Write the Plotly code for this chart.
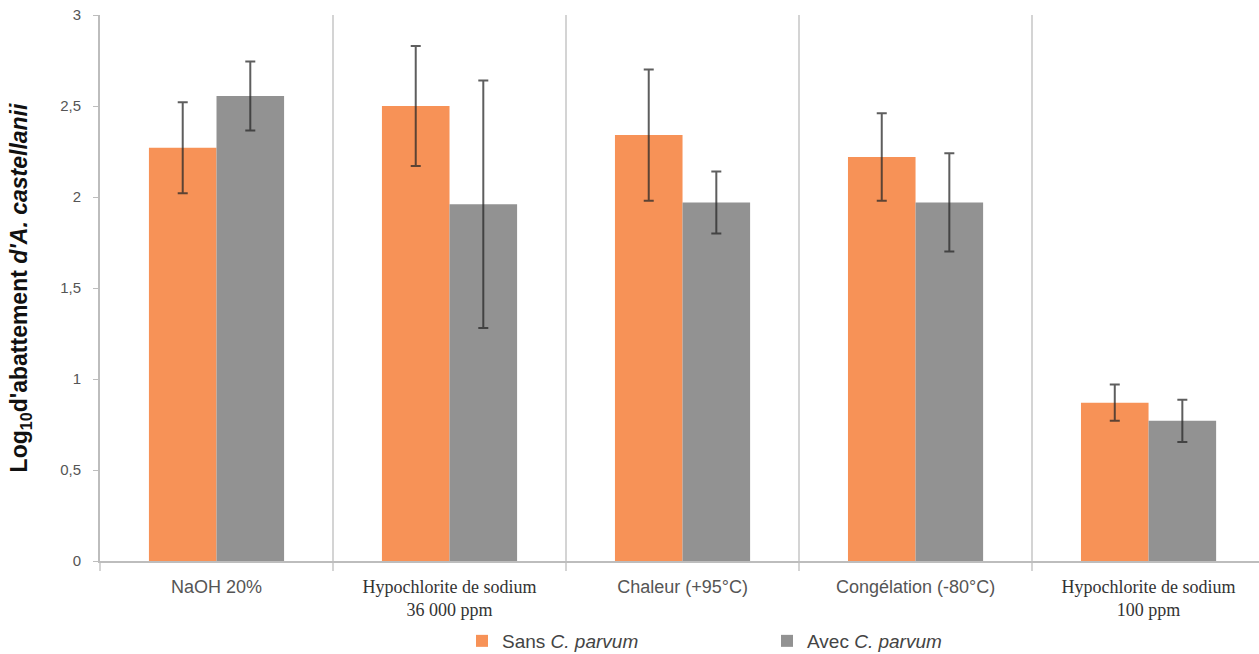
import plotly.graph_objects as go

categories = ["NaOH 20%", "Hypochlorite de sodium 36 000 ppm", "Chaleur (+95°C)",
              "Congélation (-80°C)", "Hypochlorite de sodium 100 ppm"]
serif = "font-family:Liberation Serif, Times New Roman, serif;fill:#333333"
tick_labels = [
    "NaOH 20%",
    f"<span style='{serif}'>Hypochlorite de sodium<br>36 000 ppm</span>",
    "Chaleur (+95°C)",
    "Congélation (-80°C)",
    f"<span style='{serif}'>Hypochlorite de sodium<br>100 ppm</span>",
]
sans_values = [2.27, 2.50, 2.34, 2.22, 0.87]
sans_err = [0.25, 0.33, 0.36, 0.24, 0.10]
avec_values = [2.555, 1.96, 1.97, 1.97, 0.77]
avec_err = [0.19, 0.68, 0.17, 0.27, 0.116]
y_ticks = [0, 0.5, 1, 1.5, 2, 2.5, 3]

err_style = dict(type="data", visible=True, color="rgba(40,40,40,0.75)", thickness=2, width=5)

fig = go.Figure()
fig.add_trace(go.Bar(
    x=categories, y=sans_values, name="Sans <i>C. parvum</i>",
    marker=dict(color="#F79257", line=dict(width=0)),
    error_y=dict(array=sans_err, **err_style),
))
fig.add_trace(go.Bar(
    x=categories, y=avec_values, name="Avec <i>C. parvum</i>",
    marker=dict(color="#929292", line=dict(width=0)),
    error_y=dict(array=avec_err, **err_style),
))

W, H = 1259, 654
fig.update_layout(
    width=W, height=H,
    margin=dict(l=100, r=0, t=15, b=93, autoexpand=False),
    paper_bgcolor="white", plot_bgcolor="white",
    barmode="group", bargap=0.42, bargroupgap=0,
    separators=", ",
    font=dict(family="Arial, Liberation Sans, sans-serif", size=15, color="#555555"),
    showlegend=True,
    legend=dict(orientation="h", xref="paper", x=(462 - 100) / 1159, xanchor="left",
                yref="container", y=(H - 641) / H, yanchor="middle",
                font=dict(size=19, color="#444444"), entrywidth=260,
                itemwidth=30, bgcolor="rgba(0,0,0,0)"),
    xaxis=dict(
        type="category", categoryorder="array", categoryarray=categories,
        tickmode="array", tickvals=categories, ticktext=tick_labels,
        range=[-0.5, 4.474], automargin=False,
        showline=True, linecolor="#bdbdbd", linewidth=2,
        showgrid=True, gridcolor="#d4d4d4", gridwidth=2,
        tickson="boundaries", ticks="outside", ticklen=8, tickcolor="#d4d4d4", tickwidth=2,
        tickfont=dict(size=18, color="#555555"), ticklabelstandoff=8,
        zeroline=False,
    ),
    yaxis=dict(
        range=[0, 3], tickvals=y_ticks, automargin=False,
        ticklabeloverflow="allow",
        showline=True, linecolor="#bdbdbd", linewidth=2,
        ticks="outside", ticklen=5, tickcolor="#bdbdbd",
        showgrid=False, zeroline=False,
        tickfont=dict(size=15, color="#555555"), ticklabelstandoff=9,
        title=dict(text="<b>Log<sub>10</sub>d'abattement <i>d'A. castellanii</i></b>",
                   font=dict(size=23, color="#111111"), standoff=26),
    ),
)

fig.write_html("out.html", config={"displayModeBar": False},
               post_script="document.body.style.margin='0';document.body.style.overflow='hidden';")
